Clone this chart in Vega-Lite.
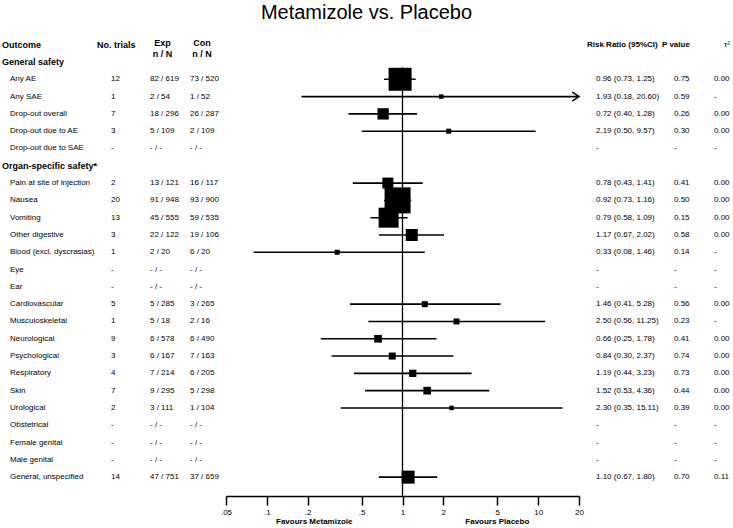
{
  "$schema": "https://vega.github.io/schema/vega-lite/v6.json",
  "padding": {"top": 3, "left": 0, "right": 0, "bottom": 0},
  "spacing": 0,
  "bounds": "flush",
  "title": {"text": "Metamizole vs. Placebo", "fontSize": 20, "fontWeight": "normal", "font": "Liberation Sans", "color": "black", "anchor": "middle", "offset": 4},
  "datasets": {
    "rows": [
      {"row": 1, "type": "section", "label": "General safety"},
      {"row": 2, "type": "item", "label": "Any AE", "trials": "12", "exp": "82 / 619", "con": "73 / 520", "rrtext": "0.96 (0.73, 1.25)", "p": "0.75", "tau": "0.00", "rr": 0.96, "lo": 0.73, "hi": 1.25, "weight": 52.9},
      {"row": 3, "type": "item", "label": "Any SAE", "trials": "1", "exp": "2 / 54", "con": "1 / 52", "rrtext": "1.93 (0.18, 20.60)", "p": "0.59", "tau": "-", "rr": 1.93, "lo": 0.18, "hi": 20.6, "weight": 2},
      {"row": 4, "type": "item", "label": "Drop-out overall", "trials": "7", "exp": "18 / 296", "con": "26 / 287", "rrtext": "0.72 (0.40, 1.28)", "p": "0.26", "tau": "0.00", "rr": 0.72, "lo": 0.40, "hi": 1.28, "weight": 12.8},
      {"row": 5, "type": "item", "label": "Drop-out due to AE", "trials": "3", "exp": "5 / 109", "con": "2 / 109", "rrtext": "2.19 (0.50, 9.57)", "p": "0.30", "tau": "0.00", "rr": 2.19, "lo": 0.50, "hi": 9.57, "weight": 2.5},
      {"row": 6, "type": "item", "label": "Drop-out due to SAE", "trials": "-", "exp": "- / -", "con": "- / -", "rrtext": "-", "p": "-", "tau": "-"},
      {"row": 7, "type": "section", "label": "Organ-specific safety*"},
      {"row": 8, "type": "item", "label": "Pain at site of injection", "trials": "2", "exp": "13 / 121", "con": "16 / 117", "rrtext": "0.78 (0.43, 1.41)", "p": "0.41", "tau": "0.00", "rr": 0.78, "lo": 0.43, "hi": 1.41, "weight": 12.1},
      {"row": 9, "type": "item", "label": "Nausea", "trials": "20", "exp": "91 / 948", "con": "93 / 900", "rrtext": "0.92 (0.73, 1.16)", "p": "0.50", "tau": "0.00", "rr": 0.92, "lo": 0.73, "hi": 1.16, "weight": 67.6},
      {"row": 10, "type": "item", "label": "Vomiting", "trials": "13", "exp": "45 / 555", "con": "59 / 535", "rrtext": "0.79 (0.58, 1.09)", "p": "0.15", "tau": "0.00", "rr": 0.79, "lo": 0.58, "hi": 1.09, "weight": 40},
      {"row": 11, "type": "item", "label": "Other digestive", "trials": "3", "exp": "22 / 122", "con": "19 / 106", "rrtext": "1.17 (0.67, 2.02)", "p": "0.58", "tau": "0.00", "rr": 1.17, "lo": 0.67, "hi": 2.02, "weight": 14.4},
      {"row": 12, "type": "item", "label": "Blood (excl. dyscrasias)", "trials": "1", "exp": "2 / 20", "con": "6 / 20", "rrtext": "0.33 (0.08, 1.46)", "p": "0.14", "tau": "-", "rr": 0.33, "lo": 0.08, "hi": 1.46, "weight": 2.5},
      {"row": 13, "type": "item", "label": "Eye", "trials": "-", "exp": "- / -", "con": "- / -", "rrtext": "-", "p": "-", "tau": "-"},
      {"row": 14, "type": "item", "label": "Ear", "trials": "-", "exp": "- / -", "con": "- / -", "rrtext": "-", "p": "-", "tau": "-"},
      {"row": 15, "type": "item", "label": "Cardiovascular", "trials": "5", "exp": "5 / 285", "con": "3 / 265", "rrtext": "1.46 (0.41, 5.28)", "p": "0.56", "tau": "0.00", "rr": 1.46, "lo": 0.41, "hi": 5.28, "weight": 3.6},
      {"row": 16, "type": "item", "label": "Musculoskeletal", "trials": "1", "exp": "5 / 18", "con": "2 / 16", "rrtext": "2.50 (0.56, 11.25)", "p": "0.23", "tau": "-", "rr": 2.50, "lo": 0.56, "hi": 11.25, "weight": 3.6},
      {"row": 17, "type": "item", "label": "Neurological", "trials": "9", "exp": "6 / 578", "con": "6 / 490", "rrtext": "0.66 (0.25, 1.78)", "p": "0.41", "tau": "0.00", "rr": 0.66, "lo": 0.25, "hi": 1.78, "weight": 5.9},
      {"row": 18, "type": "item", "label": "Psychological", "trials": "3", "exp": "6 / 167", "con": "7 / 163", "rrtext": "0.84 (0.30, 2.37)", "p": "0.74", "tau": "0.00", "rr": 0.84, "lo": 0.30, "hi": 2.37, "weight": 4.9},
      {"row": 19, "type": "item", "label": "Respiratory", "trials": "4", "exp": "7 / 214", "con": "6 / 205", "rrtext": "1.19 (0.44, 3.23)", "p": "0.73", "tau": "0.00", "rr": 1.19, "lo": 0.44, "hi": 3.23, "weight": 5.3},
      {"row": 20, "type": "item", "label": "Skin", "trials": "7", "exp": "9 / 295", "con": "5 / 298", "rrtext": "1.52 (0.53, 4.36)", "p": "0.44", "tau": "0.00", "rr": 1.52, "lo": 0.53, "hi": 4.36, "weight": 5.9},
      {"row": 21, "type": "item", "label": "Urological", "trials": "2", "exp": "3 / 111", "con": "1 / 104", "rrtext": "2.30 (0.35, 15.11)", "p": "0.39", "tau": "0.00", "rr": 2.30, "lo": 0.35, "hi": 15.11, "weight": 2},
      {"row": 22, "type": "item", "label": "Obstetrical", "trials": "-", "exp": "- / -", "con": "- / -", "rrtext": "-", "p": "-", "tau": "-"},
      {"row": 23, "type": "item", "label": "Female genital", "trials": "-", "exp": "- / -", "con": "- / -", "rrtext": "-", "p": "-", "tau": "-"},
      {"row": 24, "type": "item", "label": "Male genital", "trials": "-", "exp": "- / -", "con": "- / -", "rrtext": "-", "p": "-", "tau": "-"},
      {"row": 25, "type": "item", "label": "General, unspecified", "trials": "14", "exp": "47 / 751", "con": "37 / 659", "rrtext": "1.10 (0.67, 1.80)", "p": "0.70", "tau": "0.11", "rr": 1.10, "lo": 0.67, "hi": 1.80, "weight": 16.9}
    ]
  },
  "hconcat": [
    {
      "width": 97, "height": 469,
      "layer": [
        {"data": {"values": [{"row": 0, "t": "Outcome"}]}, "mark": {"type": "text", "fontWeight": "bold", "fontSize": 9, "dx": 2},
         "encoding": {"x": {"value": 0}, "y": {"field": "row", "type": "quantitative", "scale": {"domain": [-1.023, 26.09], "reverse": true, "nice": false, "zero": false}, "axis": null}, "text": {"field": "t"}}},
        {"data": {"name": "rows"}, "transform": [{"filter": "datum.type == 'section'"}], "mark": {"type": "text", "fontWeight": "bold", "fontSize": 9, "dx": 2},
         "encoding": {"x": {"value": 0}, "y": {"field": "row", "type": "quantitative", "scale": {"domain": [-1.023, 26.09], "reverse": true, "nice": false, "zero": false}, "axis": null}, "text": {"field": "label"}}},
        {"data": {"name": "rows"}, "transform": [{"filter": "datum.type == 'item'"}], "mark": {"type": "text", "dx": 10},
         "encoding": {"x": {"value": 0}, "y": {"field": "row", "type": "quantitative", "scale": {"domain": [-1.023, 26.09], "reverse": true, "nice": false, "zero": false}, "axis": null}, "text": {"field": "label"}}}
      ]
    },
    {
      "width": 53, "height": 469,
      "layer": [
        {"data": {"values": [{"row": 0, "t": "No. trials"}]}, "mark": {"type": "text", "fontWeight": "bold", "fontSize": 9},
         "encoding": {"x": {"value": 0}, "y": {"field": "row", "type": "quantitative", "scale": {"domain": [-1.023, 26.09], "reverse": true, "nice": false, "zero": false}, "axis": null}, "text": {"field": "t"}}},
        {"data": {"name": "rows"}, "transform": [{"filter": "datum.type == 'item'"}], "mark": {"type": "text", "dx": 14},
         "encoding": {"x": {"value": 0}, "y": {"field": "row", "type": "quantitative", "scale": {"domain": [-1.023, 26.09], "reverse": true, "nice": false, "zero": false}, "axis": null}, "text": {"field": "trials"}}}
      ]
    },
    {
      "width": 40, "height": 469,
      "layer": [
        {"data": {"values": [{"row": 0, "t": "Exp\nn / N"}]}, "mark": {"type": "text", "fontWeight": "bold", "fontSize": 9, "align": "center", "dx": 12.5, "dy": -2, "lineBreak": "\n", "lineHeight": 11},
         "encoding": {"x": {"value": 0}, "y": {"field": "row", "type": "quantitative", "scale": {"domain": [-1.023, 26.09], "reverse": true, "nice": false, "zero": false}, "axis": null}, "text": {"field": "t"}}},
        {"data": {"name": "rows"}, "transform": [{"filter": "datum.type == 'item'"}], "mark": {"type": "text"},
         "encoding": {"x": {"value": 0}, "y": {"field": "row", "type": "quantitative", "scale": {"domain": [-1.023, 26.09], "reverse": true, "nice": false, "zero": false}, "axis": null}, "text": {"field": "exp"}}}
      ]
    },
    {
      "width": 36, "height": 469,
      "layer": [
        {"data": {"values": [{"row": 0, "t": "Con\nn / N"}]}, "mark": {"type": "text", "fontWeight": "bold", "fontSize": 9, "align": "center", "dx": 12, "dy": -2, "lineBreak": "\n", "lineHeight": 11},
         "encoding": {"x": {"value": 0}, "y": {"field": "row", "type": "quantitative", "scale": {"domain": [-1.023, 26.09], "reverse": true, "nice": false, "zero": false}, "axis": null}, "text": {"field": "t"}}},
        {"data": {"name": "rows"}, "transform": [{"filter": "datum.type == 'item'"}], "mark": {"type": "text"},
         "encoding": {"x": {"value": 0}, "y": {"field": "row", "type": "quantitative", "scale": {"domain": [-1.023, 26.09], "reverse": true, "nice": false, "zero": false}, "axis": null}, "text": {"field": "con"}}}
      ]
    },
    {
      "width": 353, "height": 469,
      "layer": [
        {"data": {"values": [{"x": 1, "y1": 1.3, "y2": 26.09}]}, "mark": {"type": "rule", "color": "black", "strokeWidth": 1.3},
         "encoding": {
           "x": {"field": "x", "type": "quantitative", "scale": {"type": "log", "domain": [0.05, 20], "clamp": true, "nice": false},
                 "axis": {"values": [0.05, 0.1, 0.2, 0.5, 1, 2, 5, 10, 20], "labelExpr": "datum.value < 1 ? replace(toString(datum.value), '0.', '.') : toString(datum.value)", "title": null, "grid": false, "tickSize": 9, "tickWidth": 1.5, "tickColor": "black", "domainColor": "black", "domainWidth": 1.5, "labelFontSize": 8, "labelFont": "Liberation Sans", "labelColor": "black", "labelPadding": 3, "labelFlush": false, "labelOverlap": false}},
           "y": {"field": "y1", "type": "quantitative", "scale": {"domain": [-1.023, 26.09], "reverse": true, "nice": false, "zero": false}, "axis": null},
           "y2": {"field": "y2"}}},
        {"data": {"name": "rows"}, "transform": [{"filter": "isValid(datum.rr)"}], "mark": {"type": "rule", "color": "black", "strokeWidth": 1.6},
         "encoding": {
           "x": {"field": "lo", "type": "quantitative", "scale": {"type": "log", "domain": [0.05, 20], "clamp": true, "nice": false},
                 "axis": {"values": [0.05, 0.1, 0.2, 0.5, 1, 2, 5, 10, 20], "labelExpr": "datum.value < 1 ? replace(toString(datum.value), '0.', '.') : toString(datum.value)", "title": null, "grid": false, "tickSize": 9, "tickWidth": 1.5, "tickColor": "black", "domainColor": "black", "domainWidth": 1.5, "labelFontSize": 8, "labelFont": "Liberation Sans", "labelColor": "black", "labelPadding": 3, "labelFlush": false, "labelOverlap": false}},
           "x2": {"field": "hi"},
           "y": {"field": "row", "type": "quantitative", "scale": {"domain": [-1.023, 26.09], "reverse": true, "nice": false, "zero": false}, "axis": null}}},
        {"data": {"name": "rows"}, "transform": [{"filter": "isValid(datum.rr)"}], "mark": {"type": "square", "color": "black", "opacity": 1},
         "encoding": {
           "x": {"field": "rr", "type": "quantitative", "scale": {"type": "log", "domain": [0.05, 20], "clamp": true, "nice": false},
                 "axis": {"values": [0.05, 0.1, 0.2, 0.5, 1, 2, 5, 10, 20], "labelExpr": "datum.value < 1 ? replace(toString(datum.value), '0.', '.') : toString(datum.value)", "title": null, "grid": false, "tickSize": 9, "tickWidth": 1.5, "tickColor": "black", "domainColor": "black", "domainWidth": 1.5, "labelFontSize": 8, "labelFont": "Liberation Sans", "labelColor": "black", "labelPadding": 3, "labelFlush": false, "labelOverlap": false}},
           "y": {"field": "row", "type": "quantitative", "scale": {"domain": [-1.023, 26.09], "reverse": true, "nice": false, "zero": false}, "axis": null},
           "size": {"field": "weight", "type": "quantitative", "scale": {"type": "linear", "domain": [0, 100], "range": [0, 1000], "zero": true}, "legend": null}}},
        {"data": {"name": "rows"}, "transform": [{"filter": "datum.hi > 20"}], "mark": {"type": "point", "shape": "M -1.5 -1 L 0 0 L -1.5 1", "filled": false, "color": "black", "strokeWidth": 1.5, "size": 81, "opacity": 1},
         "encoding": {
           "x": {"field": "hi", "type": "quantitative", "scale": {"type": "log", "domain": [0.05, 20], "clamp": true, "nice": false},
                 "axis": {"values": [0.05, 0.1, 0.2, 0.5, 1, 2, 5, 10, 20], "labelExpr": "datum.value < 1 ? replace(toString(datum.value), '0.', '.') : toString(datum.value)", "title": null, "grid": false, "tickSize": 9, "tickWidth": 1.5, "tickColor": "black", "domainColor": "black", "domainWidth": 1.5, "labelFontSize": 8, "labelFont": "Liberation Sans", "labelColor": "black", "labelPadding": 3, "labelFlush": false, "labelOverlap": false}},
           "y": {"field": "row", "type": "quantitative", "scale": {"domain": [-1.023, 26.09], "reverse": true, "nice": false, "zero": false}, "axis": null}}},
        {"data": {"values": [{"x": 0.2236, "row": 27.59, "label": "Favours Metamizole"}, {"x": 5, "row": 27.59, "label": "Favours Placebo"}]},
         "mark": {"type": "text", "fontWeight": "bold", "align": "center"},
         "encoding": {
           "x": {"field": "x", "type": "quantitative", "scale": {"type": "log", "domain": [0.05, 20], "clamp": true, "nice": false},
                 "axis": {"values": [0.05, 0.1, 0.2, 0.5, 1, 2, 5, 10, 20], "labelExpr": "datum.value < 1 ? replace(toString(datum.value), '0.', '.') : toString(datum.value)", "title": null, "grid": false, "tickSize": 9, "tickWidth": 1.5, "tickColor": "black", "domainColor": "black", "domainWidth": 1.5, "labelFontSize": 8, "labelFont": "Liberation Sans", "labelColor": "black", "labelPadding": 3, "labelFlush": false, "labelOverlap": false}},
           "y": {"field": "row", "type": "quantitative", "scale": {"domain": [-1.023, 26.09], "reverse": true, "nice": false, "zero": false}, "axis": null},
           "text": {"field": "label"}}}
      ]
    },
    {
      "width": 78, "height": 469,
      "layer": [
        {"data": {"values": [{"row": 0, "t": "Risk Ratio (95%CI)"}]}, "mark": {"type": "text", "fontWeight": "bold", "fontSize": 8, "dx": 8},
         "encoding": {"x": {"value": 0}, "y": {"field": "row", "type": "quantitative", "scale": {"domain": [-1.023, 26.09], "reverse": true, "nice": false, "zero": false}, "axis": null}, "text": {"field": "t"}}},
        {"data": {"name": "rows"}, "transform": [{"filter": "datum.type == 'item'"}], "mark": {"type": "text", "dx": 17},
         "encoding": {"x": {"value": 0}, "y": {"field": "row", "type": "quantitative", "scale": {"domain": [-1.023, 26.09], "reverse": true, "nice": false, "zero": false}, "axis": null}, "text": {"field": "rrtext"}}}
      ]
    },
    {
      "width": 50, "height": 469,
      "layer": [
        {"data": {"values": [{"row": 0, "t": "P value"}]}, "mark": {"type": "text", "fontWeight": "bold", "fontSize": 8, "dx": 5},
         "encoding": {"x": {"value": 0}, "y": {"field": "row", "type": "quantitative", "scale": {"domain": [-1.023, 26.09], "reverse": true, "nice": false, "zero": false}, "axis": null}, "text": {"field": "t"}}},
        {"data": {"name": "rows"}, "transform": [{"filter": "datum.type == 'item'"}], "mark": {"type": "text", "dx": 17},
         "encoding": {"x": {"value": 0}, "y": {"field": "row", "type": "quantitative", "scale": {"domain": [-1.023, 26.09], "reverse": true, "nice": false, "zero": false}, "axis": null}, "text": {"field": "p"}}}
      ]
    },
    {
      "width": 26, "height": 469,
      "layer": [
        {"data": {"values": [{"row": 0, "t": "τ²"}]}, "mark": {"type": "text", "fontSize": 8, "dx": 17},
         "encoding": {"x": {"value": 0}, "y": {"field": "row", "type": "quantitative", "scale": {"domain": [-1.023, 26.09], "reverse": true, "nice": false, "zero": false}, "axis": null}, "text": {"field": "t"}}},
        {"data": {"name": "rows"}, "transform": [{"filter": "datum.type == 'item'"}], "mark": {"type": "text", "dx": 7},
         "encoding": {"x": {"value": 0}, "y": {"field": "row", "type": "quantitative", "scale": {"domain": [-1.023, 26.09], "reverse": true, "nice": false, "zero": false}, "axis": null}, "text": {"field": "tau"}}}
      ]
    }
  ],
  "config": {
    "view": {"stroke": null},
    "text": {"font": "Liberation Sans", "fontSize": 8, "color": "black", "baseline": "middle", "align": "left"},
    "title": {"font": "Liberation Sans"}
  }
}
